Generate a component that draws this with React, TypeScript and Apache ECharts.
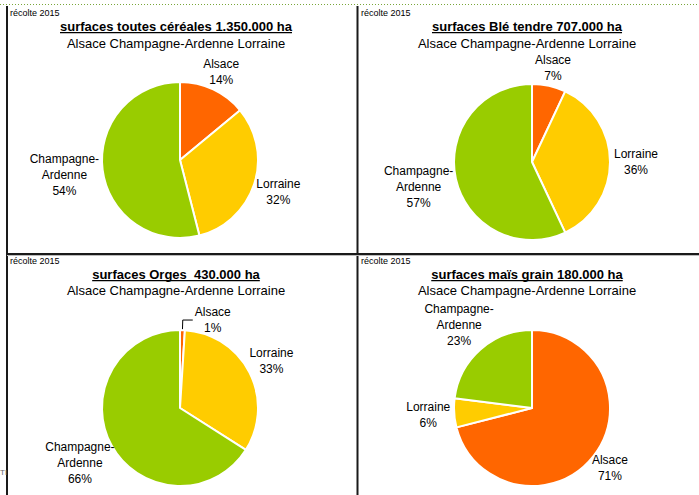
import React, { useEffect, useRef } from "react";
import * as echarts from "echarts";

const regions = ["Alsace", "Lorraine", "Champagne-Ardenne"];
const regionColors = ["#FF6600", "#FFCC00", "#99CC00"];
const toutesCereales = [14, 32, 54];
const bleTendre = [7, 36, 57];
const orges = [1, 33, 66];
const maisGrain = [71, 6, 23];
const chartTitles = [
  "surfaces toutes céréales 1.350.000 ha",
  "surfaces Blé tendre 707.000 ha",
  "surfaces Orges  430.000 ha",
  "surfaces maïs grain 180.000 ha",
];
const subtitle = "Alsace Champagne-Ardenne Lorraine";
const harvestLabel = "récolte 2015";

const FONT = "'Liberation Sans', Arial, Helvetica, sans-serif";
const RADIUS = 78;
const LABEL_GAP = 4;

const panels = [
  { values: toutesCereales, cx: 180, cy: 160, tx: 176, ty: 26, sy: 43, rx: 10, ry: 13 },
  { values: bleTendre, cx: 532, cy: 162, tx: 527, ty: 26, sy: 43, rx: 361, ry: 13 },
  { values: orges, cx: 180, cy: 408, tx: 176, ty: 274, sy: 290, rx: 10, ry: 261 },
  { values: maisGrain, cx: 532, cy: 408, tx: 527, ty: 274, sy: 290, rx: 361, ry: 261 },
];

function measure(text: string, font: string): number {
  try {
    const t = new (echarts as any).graphic.Text({ style: { text, font } });
    return t.getBoundingRect().width;
  } catch (e) {
    return text.length * 7;
  }
}

export default function App() {
  const ref = useRef<HTMLDivElement>(null);
  useEffect(() => {
    if (!ref.current) return;
    const chart = echarts.init(ref.current, undefined, { renderer: "svg" });
    const titleFont = `bold 13px ${FONT}`;
    const graphics: any[] = [
      {
        type: "line",
        shape: { x1: 0, y1: 4.5, x2: 699, y2: 4.5 },
        style: { stroke: "#7aa63a", lineWidth: 1, lineDash: [1, 2] },
        silent: true,
      },
      { type: "line", shape: { x1: 7, y1: 6, x2: 7, y2: 495 }, style: { stroke: "#1a1a1a", lineWidth: 2 } },
      { type: "line", shape: { x1: 357.5, y1: 6, x2: 357.5, y2: 495 }, style: { stroke: "#1a1a1a", lineWidth: 2 } },
      { type: "line", shape: { x1: 7, y1: 254, x2: 699, y2: 254 }, style: { stroke: "#1a1a1a", lineWidth: 2 } },
      { type: "line", shape: { x1: 7, y1: 255.5, x2: 699, y2: 255.5 }, style: { stroke: "#bbbbbb", lineWidth: 1 } },
      {
        type: "text",
        x: 0,
        y: 472,
        style: { text: "TI", font: `8px ${FONT}`, fill: "#666", verticalAlign: "middle" },
      },
    ];
    panels.forEach((p, i) => {
      const w = measure(chartTitles[i], titleFont);
      graphics.push(
        {
          type: "text",
          x: p.rx,
          y: p.ry,
          style: { text: harvestLabel, font: `9px ${FONT}`, fill: "#000", verticalAlign: "middle" },
        },
        {
          type: "text",
          x: p.tx,
          y: p.ty,
          style: { text: chartTitles[i], font: titleFont, fill: "#000", align: "center", verticalAlign: "middle" },
        },
        {
          type: "rect",
          shape: { x: p.tx - w / 2, y: p.ty + 6, width: w, height: 1.3 },
          style: { fill: "#000" },
        },
        {
          type: "text",
          x: p.tx,
          y: p.sy,
          style: { text: subtitle, font: `13px ${FONT}`, fill: "#000", align: "center", verticalAlign: "middle" },
        }
      );
    });

    const series = panels.map((p, si) => {
      const total = p.values.reduce((a, b) => a + b, 0);
      return {
        type: "pie",
        center: [p.cx, p.cy],
        radius: RADIUS,
        startAngle: 90,
        clockwise: true,
        avoidLabelOverlap: false,
        itemStyle: { borderColor: "#fff", borderWidth: 2 },
        label: {
          show: true,
          position: "outside",
          distanceToLabelLine: 2,
          formatter: (params: any) => {
            const lines = String(params.name).replace("-", "-\n").split("\n");
            lines.push(`${params.value}%`);
            return lines.map((l: string) => `{c|${l}}`).join("\n");
          },
          rich: {
            c: { align: "center", fontSize: 12, fontFamily: FONT, color: "#000", lineHeight: 16 },
          },
        },
        labelLine: { show: false, length: 4, length2: 0 },
        labelLayout: (params: any) => {
          const idx = params.dataIndex;
          if (si === 2 && idx === 0) return {};
          let before = 0;
          for (let k = 0; k < idx; k++) before += p.values[k];
          const mid = ((before + p.values[idx] / 2) / total) * Math.PI * 2;
          const dx = Math.sin(mid);
          const dy = -Math.cos(mid);
          const w = params.labelRect.width;
          const h = params.labelRect.height;
          const t = RADIUS + LABEL_GAP + Math.hypot(dx * (w / 2), dy * (h / 2));
          return {
            x: p.cx + dx * t,
            y: p.cy + dy * t,
            align: "center",
            verticalAlign: "middle",
          };
        },
        emphasis: { disabled: true },
        data: p.values.map((v, k) => {
          const item: any = { name: regions[k], value: v, itemStyle: { color: regionColors[k] } };
          if (si === 2 && k === 0) {
            item.labelLine = { show: true, length: 10, length2: 10, lineStyle: { color: "#000", width: 1 } };
          }
          return item;
        }),
      };
    });

    chart.setOption({
      animation: false,
      backgroundColor: "#fff",
      graphic: graphics,
      series,
    });
    return () => chart.dispose();
  }, []);
  return (
    <div
      ref={ref}
      style={{ position: "absolute", left: 0, top: 0, width: 699, height: 495 }}
    />
  );
}
